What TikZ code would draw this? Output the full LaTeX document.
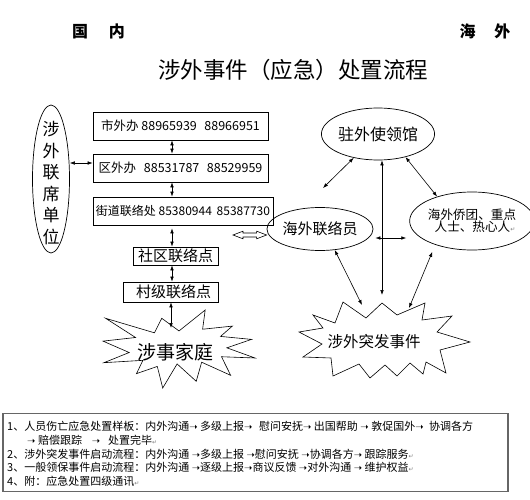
\documentclass[tikz,border=0pt]{standalone}
\usepackage{fontspec}
\setmainfont{Noto Sans CJK SC}
\newfontfamily\symfont{DejaVu Sans}
\usetikzlibrary{arrows.meta,shapes.geometric,calc}
\newcommand\fs[1]{\fontsize{#1}{#1}\selectfont}
\newcommand\ra{{\symfont\fontsize{10}{10}\selectfont ➝}}
\newcommand\ret{{\symfont\fontsize{6}{6}\selectfont\color{gray}↵}}
\begin{document}
\begin{tikzpicture}[x=1pt,y=-1pt,
  dar/.style={{Latex[length=5pt,width=3.6pt]}-{Latex[length=5pt,width=3.6pt]}, line width=0.6pt},
  boxn/.style={draw, line width=0.7pt, inner sep=0pt},
  ell/.style={draw, ellipse, line width=0.7pt, inner sep=0pt},
  lbl/.style={inner sep=0pt},
  burst/.style={draw, line width=0.6pt, fill=white},
  note/.style={inner sep=0pt, anchor=west, font=\fs{11}}]
\useasboundingbox (0,0) rectangle (530,500);
\fill[white] (0,0) rectangle (530,500);

% headings
\node[lbl,font=\bfseries\fs{16}] (gn) at (98.5,31) {国\hspace{21pt}内};
\node[lbl,font=\bfseries\fs{16}] (hw) at (485,31) {海\hspace{19pt}外};
\node[lbl,font=\fs{22.5}] (title) at (293,70) {涉外事件（应急）处置流程};

% domestic
\node[ell,minimum width=37pt,minimum height=148pt] (lx) at (51,179) {};
\node[lbl,font=\fontsize{17}{21.5}\selectfont,align=center] (lxt) at (51,183) {涉\\外\\联\\席\\单\\位};

\node[boxn,minimum width=175pt,minimum height=28pt,font=\fs{12.5}] (shi) at (180.5,126) {市外办 88965939\hspace{0.6em}88966951};
\node[boxn,minimum width=175pt,minimum height=28pt,font=\fs{12.5}] (qu) at (180.5,168) {区外办\hspace{0.4em} 88531787\hspace{0.6em}88529959};
\node[boxn,minimum width=180pt,minimum height=28pt,font=\fs{12}] (jd) at (183,211) {街道联络处 85380944\hspace{0.4em}85387730};
\node[boxn,minimum width=85pt,minimum height=18pt,font=\fs{15}] (sq) at (175.5,256) {社区联络点};
\node[boxn,minimum width=95pt,minimum height=20pt,font=\fs{15}] (cj) at (170.5,292) {\hspace{6pt}村级联络点};

% 涉事家庭 burst
\begin{scope}[shift={(103,310)},x=0.70370pt,y=-0.36111pt]
\draw[burst] (108,58) -- (145.22,0) -- (141.55,53.25) -- (183.80,44.57) -- (167.02,73.15) -- (210.97,81.37) -- (176.07,104.75) -- (216,132.90) -- (168.37,129.42) -- (181.45,180.95) -- (140.20,144.57) -- (132.47,197.37) -- (105.32,149.35) -- (84.85,216) -- (77.15,156.27) -- (47.62,176.17) -- (56.67,139.37) -- (1.35,145.87) -- (37.22,117.75) -- (0,86.15) -- (46.27,76.17) -- (3.70,22.95) -- (73.12,63.20) -- (83.52,22.95) -- cycle;
\end{scope}
\node[lbl,font=\fs{19}] (js) at (175,352) {涉事家庭};

\coordinate (ax) at (172,0);
\draw[dar] (shi.south -| ax) -- (qu.north -| ax);
\draw[dar] (qu.south -| ax) -- (jd.north -| ax);
\draw[dar] ([yshift=-3pt]jd.south -| ax) -- (sq.north -| ax);
\draw[dar] (sq.south -| ax) -- (cj.north -| ax);
\coordinate (jsTop) at (171,328);
\draw[dar] (cj.south -| jsTop) -- (jsTop);
\coordinate (ly) at (0,163);
\draw[dar] (lx.east |- ly) -- (qu.west |- ly);

% overseas
\node[ell,minimum width=100pt,minimum height=52pt,font=\fs{16}] (dsg) at (378,134) {驻外使领馆};
\node[ell,minimum width=94pt,minimum height=43pt,font=\fs{15}] (hwl) at (320,229) {海外联络员};
\node[ell,minimum width=110pt,minimum height=58pt,font=\fs{12.6},align=center] (hqt) at (472,221) {海外侨团、重点\\[-1pt]\hspace{6pt}人士、热心人\ret};

% 涉外突发事件 burst
\draw[burst] (313,315) -- (335,323) -- (343,302) -- (366,318) -- (382,303) -- (397,315) -- (425,303) -- (422,320) -- (452,316) -- (437,332) -- (470,342) -- (440,350) -- (446,373) -- (426,362) -- (423,374) -- (410,363) -- (397,376) -- (385,365) -- (370,378) -- (359,364) -- (333,376) -- (331,358) -- (303,357) -- (322,344) -- (299,332) -- (323,328) -- cycle;
\node[lbl,font=\fs{15.5}] (sw) at (374,342) {涉外突发事件};

\coordinate (fp) at (323,188);
\draw[dar] (fp) -- (dsg);
\coordinate (vx) at (382,295);
\draw[dar] (dsg.south -| vx) -- (vx);
\draw[dar] (dsg.-40) -- (hqt.145);
\coordinate (hy) at (0,238);
\draw[dar,shorten <=2pt,shorten >=3pt] (hwl.east |- hy) -- (hqt.west |- hy);
\coordinate (e1) at (362,305);
\draw[dar] (hwl.-55) -- (e1);
\coordinate (e3) at (409,308);
\draw[dar] (hqt.213) ++(-3,7) coordinate (s3b) (s3b) -- (e3);

% hollow double arrow
\coordinate (ha) at (233,235);
\coordinate (hb) at (hwl.west |- ha);
\draw[line width=0.6pt] (ha) -- ++(10,-3.8) -- ++(0,1.8) -- ($(hb)+(-10,-2)$) -- ++(0,-1.8) -- (hb) -- ++(-10,3.8) -- ++(0,-1.8) -- ($(ha)+(10,2)$) -- ++(0,1.8) -- cycle;

% notes box
\node[draw=gray!80!black, line width=1.2pt, minimum width=505pt, minimum height=78pt, inner sep=0pt] (nb) at (255.5,452.5) {};
\node[note] (n1) at (7,426) {1、人员伤亡应急处置样板：内外沟通\ra{} 多级上报\ra{}\hspace{0.6em}慰问安抚\ra{} 出国帮助 \ra{} 敦促国外\ra{}\hspace{0.5em}协调各方};
\node[note] (n2) at (27,440) {\ra{} 赔偿跟踪\hspace{0.9em}\ra{}\hspace{0.7em}处置完毕\ret};
\node[note] (n3) at (7,454) {2、涉外突发事件启动流程：内外沟通 \ra{}多级上报 \ra{}慰问安抚 \ra{}协调各方\ra{} 跟踪服务\ret};
\node[note] (n4) at (7,467) {3、一般领保事件启动流程：内外沟通 \ra{}逐级上报\ra{}商议反馈 \ra{}对外沟通 \ra{} 维护权益\ret};
\node[note] (n5) at (7,481) {4、附：应急处置四级通讯\ret};
\end{tikzpicture}
\end{document}
